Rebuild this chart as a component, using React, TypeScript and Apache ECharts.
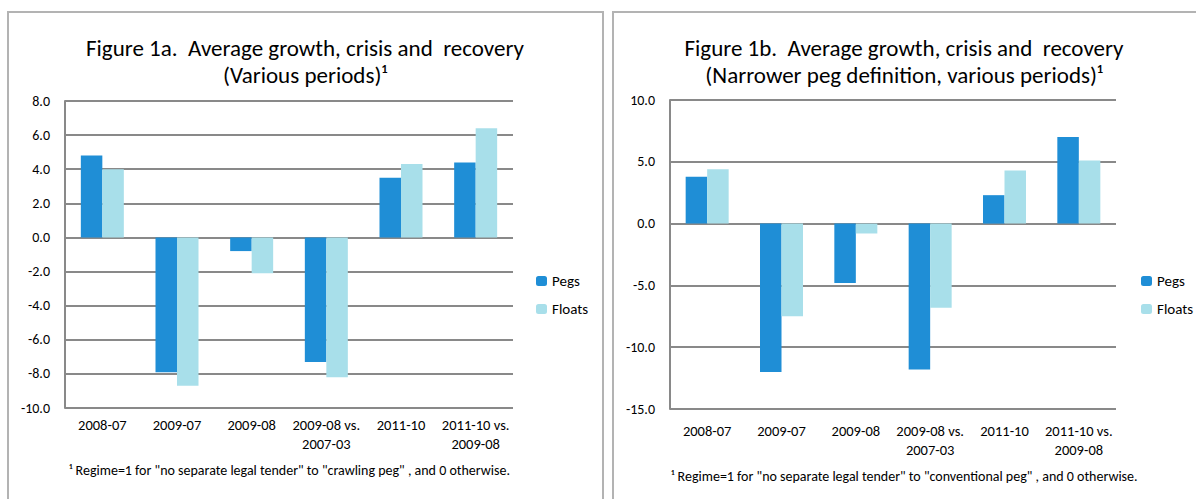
import React, { useEffect, useRef } from "react";
import * as echarts from "echarts";

const categories = ["2008-07", "2009-07", "2009-08", "2009-08 vs.\n2007-03", "2011-10", "2011-10 vs.\n2009-08"];
const pegsA = [4.8, -7.9, -0.8, -7.3, 3.5, 4.4];
const floatsA = [4.0, -8.7, -2.1, -8.2, 4.3, 6.4];
const pegsB = [3.8, -12.0, -4.8, -11.8, 2.3, 7.0];
const floatsB = [4.4, -7.5, -0.8, -6.8, 4.3, 5.1];

const titleA = "Figure 1a.  Average growth, crisis and  recovery\n(Various periods)¹";
const titleB = "Figure 1b.  Average growth, crisis and  recovery\n(Narrower peg definition, various periods)¹";
const noteA = "¹ Regime=1 for \"no separate legal tender\" to \"crawling peg\" , and 0 otherwise.";
const noteB = "¹ Regime=1 for \"no separate legal tender\" to \"conventional peg\" , and 0 otherwise.";

const FONT = "Carlito, Calibri, Lato, sans-serif";
const PEG = "#1f8ed6";
const FLOAT = "#a8dfea";
const GRIDC = "#898989";

export default function App() {
  const ref = useRef<HTMLDivElement>(null);
  useEffect(() => {
    document.body.style.margin = "0";
    const chart = echarts.init(ref.current!, undefined, { renderer: "svg" });
    const xAxis = (gi: number, margin: number) => ({
      type: "category",
      gridIndex: gi,
      data: categories,
      axisLine: { show: false },
      axisTick: { show: false },
      axisLabel: { color: "#000", fontFamily: FONT, fontSize: 14.5, lineHeight: 19.5, margin, interval: 0 },
    });
    const yAxis = (gi: number, min: number, max: number, interval: number) => ({
      type: "value",
      gridIndex: gi,
      min,
      max,
      interval,
      axisLine: { show: true, lineStyle: { color: GRIDC, width: 2 } },
      axisTick: { show: false },
      splitLine: { show: true, lineStyle: { color: GRIDC, width: 2 } },
      axisLabel: {
        color: "#000",
        fontFamily: FONT,
        fontSize: 14,
        margin: 15,
        formatter: (v: number) => v.toFixed(1),
      },
    });
    const bar = (name: string, data: number[], color: string, gi: number) => ({
      type: "bar",
      name,
      data,
      xAxisIndex: gi,
      yAxisIndex: gi,
      barWidth: 21.5,
      barGap: "0%",
      itemStyle: { color },
    });
    const legend = (left: number) => ({
      orient: "vertical",
      left,
      top: 273.5,
      padding: 0,
      itemWidth: 11,
      itemHeight: 10,
      itemGap: 13,
      data: ["Pegs", "Floats"],
      textStyle: { color: "#000", fontFamily: FONT, fontSize: 15 },
      selectedMode: false,
    });
    const title = (text: string, left: number) => ({
      text,
      left,
      top: 34,
      padding: 0,
      textAlign: "center",
      textStyle: { fontFamily: FONT, fontSize: 23, fontWeight: "normal", color: "#000", lineHeight: 27 },
    });
    chart.setOption({
      animation: false,
      title: [title(titleA, 305), title(titleB, 904)],
      legend: [legend(536), legend(1141)],
      grid: [
        { left: 65, top: 101, width: 448, height: 307 },
        { left: 670, top: 100, width: 446, height: 309 },
      ],
      xAxis: [xAxis(0, 7), xAxis(1, 12)],
      yAxis: [yAxis(0, -10, 8, 2), yAxis(1, -15, 10, 5)],
      series: [
        bar("Pegs", pegsA, PEG, 0),
        bar("Floats", floatsA, FLOAT, 0),
        bar("Pegs", pegsB, PEG, 1),
        bar("Floats", floatsB, FLOAT, 1),
      ],
      graphic: [
        { type: "rect", shape: { x: 8, y: 12, width: 595, height: 520 }, style: { fill: "none", stroke: "#b3b3b3", lineWidth: 2 }, z: -1 },
        { type: "rect", shape: { x: 613, y: 12, width: 620, height: 520 }, style: { fill: "none", stroke: "#b3b3b3", lineWidth: 2 }, z: -1 },
        { type: "text", x: 69, y: 470, style: { text: noteA, fontFamily: FONT, fontSize: 14, fill: "#000", textVerticalAlign: "middle" } },
        { type: "text", x: 671, y: 476, style: { text: noteB, fontFamily: FONT, fontSize: 14, fill: "#000", textVerticalAlign: "middle" } },
      ],
    });
    return () => chart.dispose();
  }, []);
  return <div ref={ref} style={{ width: 1196, height: 499 }} />;
}
